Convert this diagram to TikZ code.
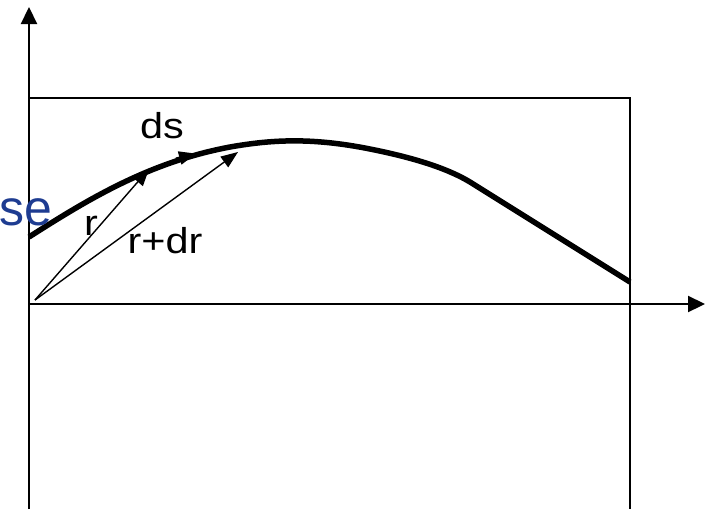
\documentclass[tikz,border=0pt]{standalone}
\usepackage{fontspec}
\setmainfont{Liberation Sans}
\usetikzlibrary{arrows.meta}
\definecolor{seblue}{RGB}{30,60,145}
\tikzset{
  axis/.style={line width=2.2pt,-{Triangle[length=17pt,width=16pt]}},
  frame/.style={line width=1.6pt},
  curve/.style={line width=5.5pt},
  vec/.style={line width=1.4pt,-{Triangle[length=17pt,width=13pt]}},
  lbl/.style={font=\fontsize{36}{37}\selectfont,inner sep=0pt,xscale=1.15}
}
\begin{document}
\begin{tikzpicture}[x=1pt,y=-1pt]
\useasboundingbox (0,0) rectangle (706,509);
% frame
\draw[frame] (29,98) -- (630,98) -- (630,509);
% axes
\coordinate (ybot) at (29,509);
\coordinate (ytop) at (29,7);
\coordinate (xl) at (29,304);
\coordinate (xr) at (705,304);
\draw[axis] (ybot) -- (ytop);
\draw[axis] (xl) -- (xr);
% curve
\draw[curve] (29,237) .. controls (90,198) and (150,162) .. (230,147)
  .. controls (270,140) and (310,137) .. (370,149)
  .. controls (420,159) and (450,170) .. (470,182)
  -- (630,282);
\coordinate (ds1) at (176,159);
\coordinate (ds2) at (196,153.5);
\draw[line width=3pt,-{Triangle[length=17pt,width=13pt]}] (ds1) -- (ds2);
% vectors
\coordinate (O) at (35,300);
\coordinate (P1) at (149,169);
\coordinate (P2) at (238,152);
\draw[vec] (O) -- (P1);
\draw[vec] (O) -- (P2);
% labels
\node[lbl,anchor=base] (ds) at (162,138) {ds};
\node[lbl,anchor=base] (r) at (91,235) {r};
\node[lbl,anchor=base] (rdr) at (165,253) {r+dr};
\node[inner sep=0pt,anchor=base east,text=seblue,font=\fontsize{50}{52}\selectfont] (se) at (53,225) {se};
\end{tikzpicture}
\end{document}
